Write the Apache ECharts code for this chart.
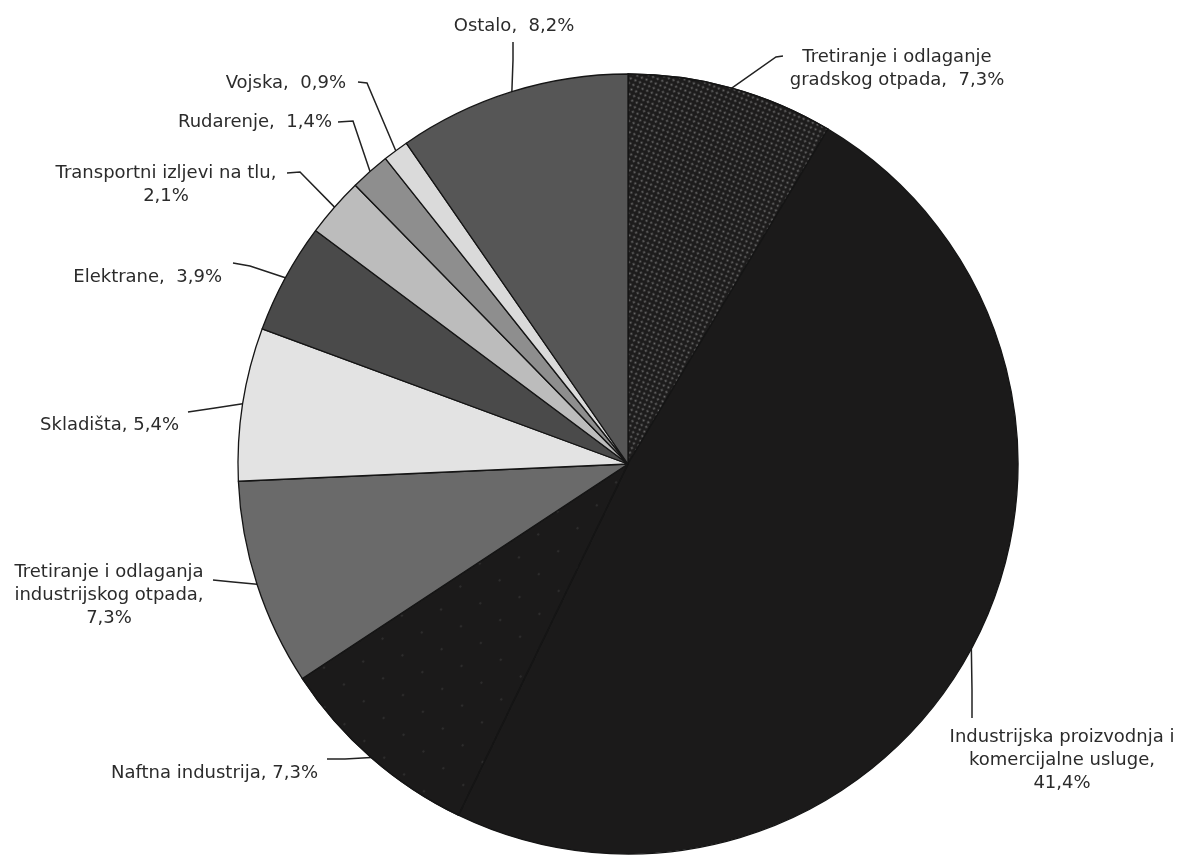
<!DOCTYPE html>
<html>
<head>
<meta charset="utf-8">
<script src="https://cdn.jsdelivr.net/npm/echarts@6/dist/echarts.min.js"></script>
<style>
  html, body { margin: 0; padding: 0; background: #ffffff; }
  #chart { width: 1184px; height: 856px; }
</style>
</head>
<body>
<div id="chart"></div>
<script>
// Sources of contamination, clockwise from 12 o'clock
const categories = [
  'Tretiranje i odlaganje\ngradskog otpada',
  'Industrijska proizvodnja i\nkomercijalne usluge',
  'Naftna industrija',
  'Tretiranje i odlaganja\nindustrijskog otpada',
  'Skladišta',
  'Elektrane',
  'Transportni izljevi na tlu',
  'Rudarenje',
  'Vojska',
  'Ostalo'
];
const shares = [7.3, 41.4, 7.3, 7.3, 5.4, 3.9, 2.1, 1.4, 0.9, 8.2];
// text placed between the name and the percentage in each label
const separators = [',  ', ',\n', ', ', ',\n', ', ', ',  ', ',\n', ',  ', ',  ', ',  '];

// slice fills
const fills = ['#1d1c1c', '#1b1a1a', '#1b1a1a', '#6a6a6a', '#e3e3e3',
               '#4a4a4a', '#bcbcbc', '#8e8e8e', '#dadada', '#565656'];

// label placement: anchor point, alignment, and the leader line's elbow/end
const labelSpots = [
  { x: 897, y: 69,  align: 'center', bend: [776, 57],  end: [783, 56] },
  { x: 1062, y: 760, align: 'center', bend: [972, 690], end: [972, 718] },
  { x: 318, y: 773, align: 'right',  bend: [345, 759], end: [327, 759] },
  { x: 109, y: 595, align: 'center', bend: [233, 582], end: [213, 580] },
  { x: 179, y: 425, align: 'right',  bend: [215, 408], end: [188, 412] },
  { x: 222, y: 277, align: 'right',  bend: [250, 266], end: [233, 263] },
  { x: 166, y: 185, align: 'center', bend: [300, 172], end: [287, 173] },
  { x: 332, y: 122, align: 'right',  bend: [353, 121], end: [338, 122] },
  { x: 346, y: 83,  align: 'right',  bend: [367, 83],  end: [358, 82] },
  { x: 514, y: 26,  align: 'center', bend: [513, 60],  end: [513, 42] }
];

const fmt = v => v.toFixed(1).replace('.', ',') + '%';

const seriesData = categories.map((name, i) => {
  const item = {
    name: name,
    value: shares[i],
    itemStyle: { color: fills[i] }
  };
  if (i === 0) {
    // stippled fill
    item.itemStyle.decal = {
      symbol: 'circle', symbolSize: 0.75,
      color: 'rgba(170,170,170,0.55)',
      dashArrayX: [3, 2], dashArrayY: [3, 2], rotation: 0.4
    };
  } else if (i === 2) {
    // faint, sparse speckle
    item.itemStyle.decal = {
      symbol: 'circle', symbolSize: 0.6,
      color: 'rgba(90,90,90,0.3)',
      dashArrayX: [4, 22], dashArrayY: [4, 26], rotation: 0.7
    };
  }
  return item;
});

const chart = echarts.init(document.getElementById('chart'), null, { renderer: 'canvas' });

chart.setOption({
  backgroundColor: '#ffffff',
  animation: false,
  series: [{
    type: 'pie',
    center: [628, 464],
    radius: 390,
    startAngle: 90,
    clockwise: true,
    avoidLabelOverlap: false,
    data: seriesData,
    itemStyle: { borderColor: '#151515', borderWidth: 1.3 },
    label: {
      show: true,
      position: 'outside',
      fontFamily: 'DejaVu Sans',
      fontSize: 18,
      lineHeight: 23,
      color: '#2b2b2b',
      formatter: p => p.name + separators[p.dataIndex] + fmt(p.value)
    },
    labelLine: {
      show: true,
      lineStyle: { color: '#222222', width: 1.5 }
    },
    labelLayout: function (params) {
      const s = labelSpots[params.dataIndex];
      const start = params.labelLinePoints ? params.labelLinePoints[0] : s.bend;
      return {
        x: s.x,
        y: s.y,
        align: s.align,
        verticalAlign: 'middle',
        labelLinePoints: [start, s.bend, s.end]
      };
    }
  }]
});
</script>
</body>
</html>
